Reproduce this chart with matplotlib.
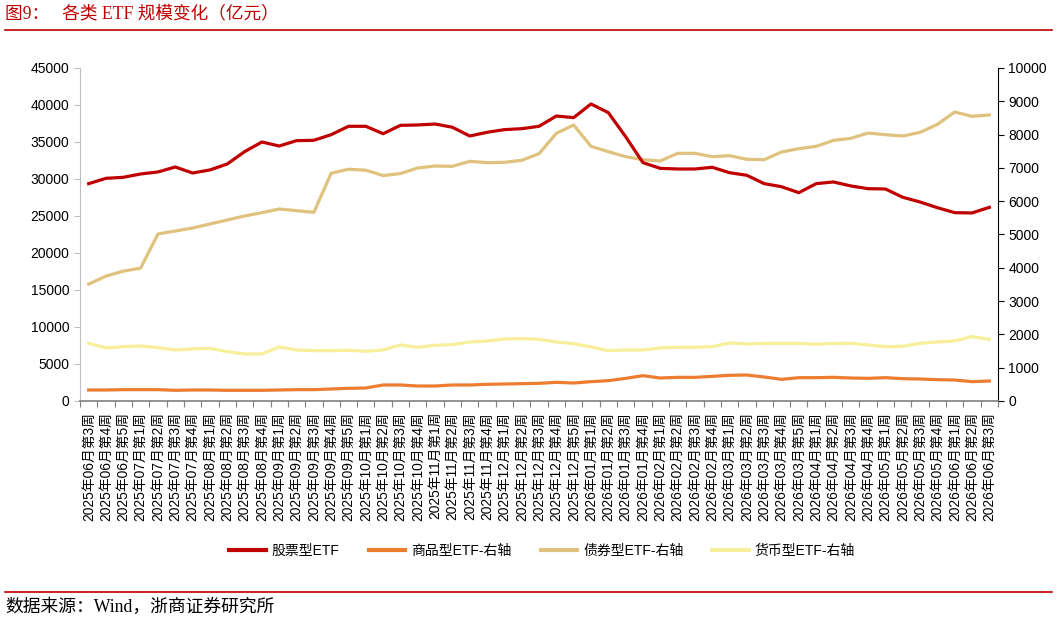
"""各类 ETF 规模变化（亿元）: weekly fund sizes, stock ETF on the left axis, others on the right."""

import matplotlib.pyplot as plt
from matplotlib.lines import Line2D

CJK = ["Liberation Sans", "Noto Sans CJK SC"]
SERIF = ["Liberation Serif", "Noto Sans CJK SC"]

WEEKS = [
    ("2025", "06", 3), ("2025", "06", 4), ("2025", "06", 5),
    ("2025", "07", 1), ("2025", "07", 2), ("2025", "07", 3), ("2025", "07", 4),
    ("2025", "08", 1), ("2025", "08", 2), ("2025", "08", 3), ("2025", "08", 4),
    ("2025", "09", 1), ("2025", "09", 2), ("2025", "09", 3), ("2025", "09", 4), ("2025", "09", 5),
    ("2025", "10", 1), ("2025", "10", 2), ("2025", "10", 3), ("2025", "10", 4),
    ("2025", "11", 1), ("2025", "11", 2), ("2025", "11", 3), ("2025", "11", 4),
    ("2025", "12", 1), ("2025", "12", 2), ("2025", "12", 3), ("2025", "12", 4), ("2025", "12", 5),
    ("2026", "01", 1), ("2026", "01", 2), ("2026", "01", 3), ("2026", "01", 4),
    ("2026", "02", 1), ("2026", "02", 2), ("2026", "02", 3), ("2026", "02", 4),
    ("2026", "03", 1), ("2026", "03", 2), ("2026", "03", 3), ("2026", "03", 4), ("2026", "03", 5),
    ("2026", "04", 1), ("2026", "04", 2), ("2026", "04", 3), ("2026", "04", 4),
    ("2026", "05", 1), ("2026", "05", 2), ("2026", "05", 3), ("2026", "05", 4),
    ("2026", "06", 1), ("2026", "06", 2), ("2026", "06", 3),
]
LABELS = [f"{y}年{m}月第{w}周" for y, m, w in WEEKS]

# 股票型ETF (left axis)
STOCK = [
    29370, 30090, 30230, 30680, 30950, 31620, 30810, 31220, 32030, 33690,
    35000, 34460, 35180, 35230, 35990, 37120, 37120, 36120, 37250, 37300,
    37430, 36990, 35810, 36310, 36670, 36800, 37120, 38510, 38290, 40140,
    38970, 35720, 32210, 31440, 31350, 31350, 31580, 30850, 30500, 29370,
    28960, 28150, 29370, 29600, 29060, 28690, 28650, 27530, 26890, 26120,
    25450, 25410, 26170,
]
# 商品型ETF-右轴
COMMODITY = [
    330, 330, 340, 340, 340, 320, 330, 330, 320, 320,
    320, 330, 340, 340, 360, 380, 390, 480, 480, 450,
    450, 480, 480, 500, 510, 520, 530, 560, 540, 580,
    610, 680, 760, 690, 710, 710, 740, 770, 780, 720,
    650, 700, 700, 710, 690, 680, 700, 670, 660, 640,
    630, 580, 600,
]
# 债券型ETF-右轴
BOND = [
    3510, 3750, 3900, 3990, 5015, 5105, 5195, 5315, 5435, 5555,
    5655, 5765, 5715, 5665, 6840, 6960, 6930, 6770, 6830, 6997,
    7057, 7047, 7197, 7157, 7167, 7227, 7427, 8039, 8288, 7648,
    7488, 7337, 7247, 7207, 7437, 7437, 7337, 7367, 7257, 7247,
    7477, 7577, 7647, 7827, 7887, 8047, 7997, 7957, 8067, 8307,
    8678, 8548, 8588,
]
# 货币型ETF-右轴
MONEY = [
    1732, 1592, 1632, 1652, 1602, 1532, 1562, 1582, 1481, 1411,
    1411, 1622, 1532, 1512, 1512, 1522, 1492, 1532, 1682, 1612,
    1672, 1692, 1772, 1802, 1862, 1872, 1852, 1772, 1722, 1622,
    1512, 1532, 1532, 1592, 1612, 1612, 1632, 1742, 1712, 1732,
    1732, 1732, 1702, 1732, 1732, 1682, 1632, 1642, 1732, 1772,
    1802, 1932, 1852,
]

SERIES_NAMES = ["股票型ETF", "商品型ETF-右轴", "债券型ETF-右轴", "货币型ETF-右轴"]
COLORS = ["#C00000", "#ED7D31", "#DFC27D", "#F7EF99"]


def main() -> None:
    fig = plt.figure(figsize=(10.57, 6.21), dpi=100)
    ax = fig.add_axes([0.0757, 0.3543, 0.8685, 0.5362])
    ax2 = ax.twinx()

    x = list(range(len(LABELS)))
    ax.plot(x, STOCK, color=COLORS[0], linewidth=2.3, zorder=5)
    ax2.plot(x, COMMODITY, color=COLORS[1], linewidth=2.3)
    ax2.plot(x, BOND, color=COLORS[2], linewidth=2.3)
    ax2.plot(x, MONEY, color=COLORS[3], linewidth=2.3)
    ax.set_zorder(ax2.get_zorder() + 1)
    ax.patch.set_visible(False)

    ax.set_xlim(-0.5, len(LABELS) - 0.5)
    ax.set_ylim(0, 45000)
    ax2.set_ylim(0, 10000)
    ax.set_yticks(range(0, 45001, 5000))
    ax2.set_yticks(range(0, 10001, 1000))
    ax.set_xticks(x)
    ax.set_xticklabels(LABELS, rotation=90, fontsize=9.9, family=CJK)
    ax.set_xticks([i - 0.5 for i in range(len(LABELS) + 1)], minor=True)
    ax.tick_params(axis="x", which="major", length=0, pad=8)
    ax.tick_params(axis="x", which="minor", length=4, width=0.8, color="#7F7F7F")
    ax.tick_params(axis="y", length=4, width=0.8, color="#BFBFBF", labelsize=10)
    ax2.tick_params(axis="y", length=4, width=0.8, color="black", labelsize=10)
    for lab in ax.get_yticklabels() + ax2.get_yticklabels():
        lab.set_family("Liberation Sans")

    for axis in (ax, ax2):
        axis.spines["top"].set_visible(False)
    ax.spines["left"].set_color("#BFBFBF")
    ax.spines["right"].set_visible(False)
    ax2.spines["left"].set_visible(False)
    ax.spines["bottom"].set_color("#7F7F7F")
    ax.spines["bottom"].set_linewidth(1.2)
    ax2.spines["bottom"].set_visible(False)
    ax2.spines["right"].set_color("black")

    handles = [Line2D([0], [0], color=c, linewidth=3) for c in COLORS]
    fig.legend(
        handles, SERIES_NAMES,
        loc="center", bbox_to_anchor=(0.513, 0.113), ncol=4, frameon=False,
        prop={"family": CJK, "size": 10}, handlelength=2.6, handletextpad=0.45,
        columnspacing=2.1,
    )

    fig.text(0.005, 0.977, "图9：   各类 ETF 规模变化（亿元）", color="#C00000",
             fontsize=12.7, family=SERIF, ha="left", va="center")
    fig.text(0.005, 0.023, "数据来源：Wind，浙商证券研究所", color="black",
             fontsize=12.8, family=SERIF, ha="left", va="center")
    fig.add_artist(Line2D([0.005, 0.995], [0.952, 0.952], color="#C00000", linewidth=1.2))
    fig.add_artist(Line2D([0.005, 0.995], [0.047, 0.047], color="#C00000", linewidth=1.2))

    fig.savefig("out.png", dpi=100)
    plt.close(fig)


if __name__ == "__main__":
    main()
